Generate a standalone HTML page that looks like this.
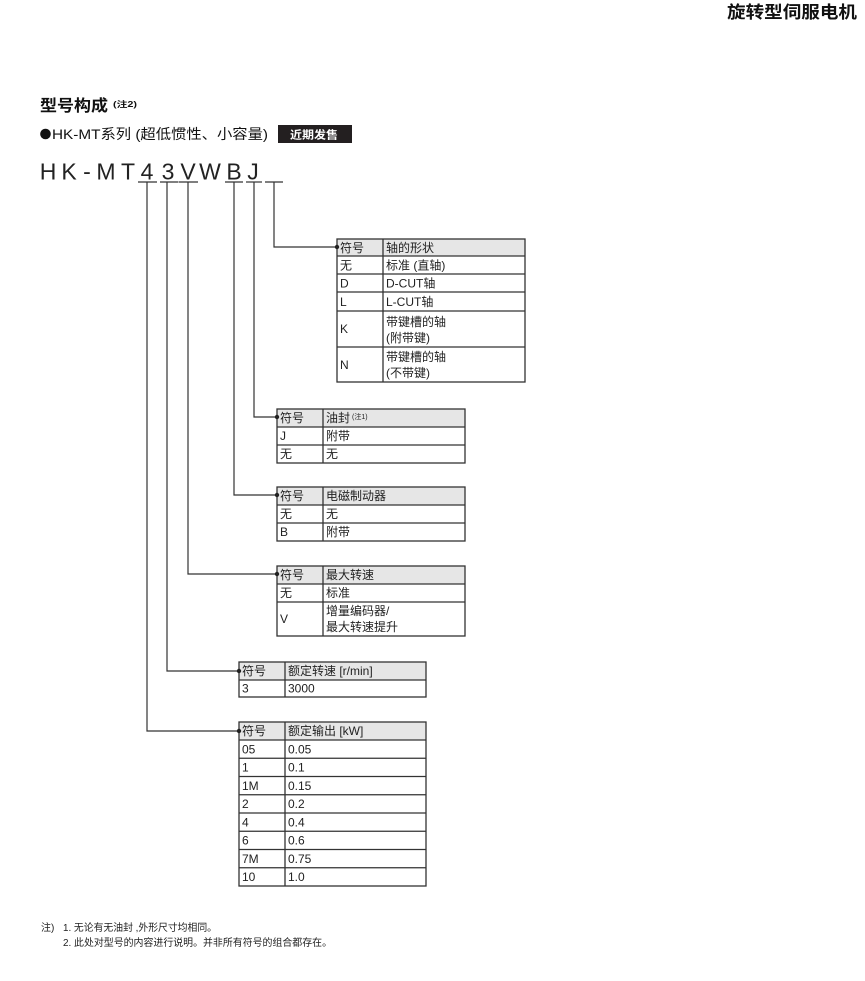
<!DOCTYPE html>
<html>
<head>
<meta charset="utf-8">
<style>
  html,body{margin:0;padding:0;background:#fff;}
  body{width:865px;height:981px;overflow:hidden;}
  svg{display:block;}
  text{font-family:"Liberation Sans","Noto Sans CJK SC",sans-serif;fill:#222;}
  .t{font-size:12px;}
  .hd{fill:#e6e6e6;}
  .ln{stroke:#333;stroke-width:1.2;fill:none;}
  .bd{stroke:#333;stroke-width:1.3;fill:none;}
</style>
</head>
<body>
<svg width="865" height="981" viewBox="0 0 865 981" xmlns="http://www.w3.org/2000/svg">
  <!-- top right title -->
  <text x="727" y="18" font-size="17" font-weight="bold" textLength="130" lengthAdjust="spacingAndGlyphs" style="fill:#111">旋转型伺服电机</text>

  <!-- heading -->
  <text x="40" y="111" font-size="16" font-weight="bold" textLength="68" lengthAdjust="spacingAndGlyphs" style="fill:#111">型号构成</text>
  <text x="113" y="107" font-size="8" font-weight="bold" textLength="24" lengthAdjust="spacingAndGlyphs" style="fill:#111">(注2)</text>

  <circle cx="45.5" cy="134" r="5.3" fill="#111"/>
  <text x="52" y="139" font-size="14" textLength="216" lengthAdjust="spacingAndGlyphs" style="fill:#111">HK-MT系列 (超低惯性、小容量)</text>
  <rect x="278" y="125" width="74" height="18" fill="#231f20"/>
  <text x="290" y="138.5" font-size="11" font-weight="bold" textLength="48" lengthAdjust="spacingAndGlyphs" style="fill:#fff">近期发售</text>

  <!-- model code -->
  <g font-size="23" style="fill:#222">
    <text x="48" y="179.5" text-anchor="middle">H</text>
    <text x="69" y="179.5" text-anchor="middle">K</text>
    <text x="87" y="179.5" text-anchor="middle">-</text>
    <text x="106" y="179.5" text-anchor="middle">M</text>
    <text x="128" y="179.5" text-anchor="middle">T</text>
    <text x="147" y="179.5" text-anchor="middle">4</text>
    <text x="168" y="179.5" text-anchor="middle">3</text>
    <text x="188" y="179.5" text-anchor="middle">V</text>
    <text x="210" y="179.5" text-anchor="middle">W</text>
    <text x="234" y="179.5" text-anchor="middle">B</text>
    <text x="253" y="179.5" text-anchor="middle">J</text>
  </g>
  <!-- underlines -->
  <g class="ln">
    <line x1="138" y1="182" x2="157" y2="182"/>
    <line x1="160" y1="182" x2="178" y2="182"/>
    <line x1="178.5" y1="182" x2="198" y2="182"/>
    <line x1="225" y1="182" x2="243" y2="182"/>
    <line x1="246" y1="182" x2="262" y2="182"/>
    <line x1="265" y1="182" x2="283" y2="182"/>
  </g>
  <!-- connectors -->
  <g class="ln">
    <polyline points="147,182 147,731 239,731"/>
    <polyline points="167,182 167,671 239,671"/>
    <polyline points="188,182 188,574 277,574"/>
    <polyline points="234,182 234,495 277,495"/>
    <polyline points="254,182 254,417 277,417"/>
    <polyline points="274,182 274,247 337,247"/>
  </g>

  <!-- Table 1 -->
  <rect class="hd" x="337" y="239" width="188" height="17"/>
  <g class="bd">
    <rect x="337" y="239" width="188" height="143"/>
    <line x1="383" y1="239" x2="383" y2="382"/>
    <line x1="337" y1="256" x2="525" y2="256"/>
    <line x1="337" y1="274" x2="525" y2="274"/>
    <line x1="337" y1="292" x2="525" y2="292"/>
    <line x1="337" y1="311" x2="525" y2="311"/>
    <line x1="337" y1="347" x2="525" y2="347"/>
  </g>
  <g class="t">
    <text x="340" y="252">符号</text><text x="386" y="252">轴的形状</text>
    <text x="340" y="269.5">无</text><text x="386" y="269.5">标准 (直轴)</text>
    <text x="340" y="287.5">D</text><text x="386" y="287.5">D-CUT轴</text>
    <text x="340" y="306">L</text><text x="386" y="306">L-CUT轴</text>
    <text x="340" y="333">K</text><text x="386" y="326">带键槽的轴</text><text x="386" y="342">(附带键)</text>
    <text x="340" y="369">N</text><text x="386" y="361">带键槽的轴</text><text x="386" y="377">(不带键)</text>
  </g>

  <!-- Table 2 -->
  <rect class="hd" x="277" y="409" width="188" height="18"/>
  <g class="bd">
    <rect x="277" y="409" width="188" height="54"/>
    <line x1="323" y1="409" x2="323" y2="463"/>
    <line x1="277" y1="427" x2="465" y2="427"/>
    <line x1="277" y1="445" x2="465" y2="445"/>
  </g>
  <g class="t">
    <text x="280" y="422">符号</text><text x="326" y="422">油封</text>
    <text x="352" y="419" font-size="7">(注1)</text>
    <text x="280" y="440">J</text><text x="326" y="440">附带</text>
    <text x="280" y="458">无</text><text x="326" y="458">无</text>
  </g>

  <!-- Table 3 -->
  <rect class="hd" x="277" y="487" width="188" height="18"/>
  <g class="bd">
    <rect x="277" y="487" width="188" height="54"/>
    <line x1="323" y1="487" x2="323" y2="541"/>
    <line x1="277" y1="505" x2="465" y2="505"/>
    <line x1="277" y1="523" x2="465" y2="523"/>
  </g>
  <g class="t">
    <text x="280" y="500">符号</text><text x="326" y="500">电磁制动器</text>
    <text x="280" y="518">无</text><text x="326" y="518">无</text>
    <text x="280" y="536">B</text><text x="326" y="536">附带</text>
  </g>

  <!-- Table 4 -->
  <rect class="hd" x="277" y="566" width="188" height="18"/>
  <g class="bd">
    <rect x="277" y="566" width="188" height="70"/>
    <line x1="323" y1="566" x2="323" y2="636"/>
    <line x1="277" y1="584" x2="465" y2="584"/>
    <line x1="277" y1="602" x2="465" y2="602"/>
  </g>
  <g class="t">
    <text x="280" y="579">符号</text><text x="326" y="579">最大转速</text>
    <text x="280" y="597">无</text><text x="326" y="597">标准</text>
    <text x="280" y="623">V</text><text x="326" y="615">增量编码器/</text><text x="326" y="631">最大转速提升</text>
  </g>

  <!-- Table 5 -->
  <rect class="hd" x="239" y="662" width="187" height="18"/>
  <g class="bd">
    <rect x="239" y="662" width="187" height="35"/>
    <line x1="285" y1="662" x2="285" y2="697"/>
    <line x1="239" y1="680" x2="426" y2="680"/>
  </g>
  <g class="t">
    <text x="242" y="675">符号</text><text x="288" y="675">额定转速 [r/min]</text>
    <text x="242" y="692.5">3</text><text x="288" y="692.5">3000</text>
  </g>

  <!-- Table 6 -->
  <rect class="hd" x="239" y="722" width="187" height="18"/>
  <g class="bd">
    <rect x="239" y="722" width="187" height="164"/>
    <line x1="285" y1="722" x2="285" y2="886"/>
    <line x1="239" y1="740" x2="426" y2="740"/>
    <line x1="239" y1="758.25" x2="426" y2="758.25"/>
    <line x1="239" y1="776.5" x2="426" y2="776.5"/>
    <line x1="239" y1="794.75" x2="426" y2="794.75"/>
    <line x1="239" y1="813" x2="426" y2="813"/>
    <line x1="239" y1="831.25" x2="426" y2="831.25"/>
    <line x1="239" y1="849.5" x2="426" y2="849.5"/>
    <line x1="239" y1="867.75" x2="426" y2="867.75"/>
  </g>
  <g class="t">
    <text x="242" y="735">符号</text><text x="288" y="735">额定输出 [kW]</text>
    <text x="242" y="753.3">05</text><text x="288" y="753.3">0.05</text>
    <text x="242" y="771.6">1</text><text x="288" y="771.6">0.1</text>
    <text x="242" y="789.8">1M</text><text x="288" y="789.8">0.15</text>
    <text x="242" y="808.1">2</text><text x="288" y="808.1">0.2</text>
    <text x="242" y="826.3">4</text><text x="288" y="826.3">0.4</text>
    <text x="242" y="844.6">6</text><text x="288" y="844.6">0.6</text>
    <text x="242" y="862.8">7M</text><text x="288" y="862.8">0.75</text>
    <text x="242" y="881.1">10</text><text x="288" y="881.1">1.0</text>
  </g>

  <!-- connector dots -->
  <g fill="#222">
    <circle cx="337" cy="247" r="2.2"/>
    <circle cx="277" cy="417" r="2.2"/>
    <circle cx="277" cy="495" r="2.2"/>
    <circle cx="277" cy="574" r="2.2"/>
    <circle cx="239" cy="671" r="2.2"/>
    <circle cx="239" cy="731" r="2.2"/>
  </g>

  <!-- footnotes -->
  <g font-size="10" style="fill:#333">
    <text x="41" y="931">注)</text>
    <text x="63" y="931" textLength="154" lengthAdjust="spacingAndGlyphs">1. 无论有无油封 ,外形尺寸均相同。</text>
    <text x="63" y="946" textLength="269" lengthAdjust="spacingAndGlyphs">2. 此处对型号的内容进行说明。并非所有符号的组合都存在。</text>
  </g>
</svg>
</body>
</html>
